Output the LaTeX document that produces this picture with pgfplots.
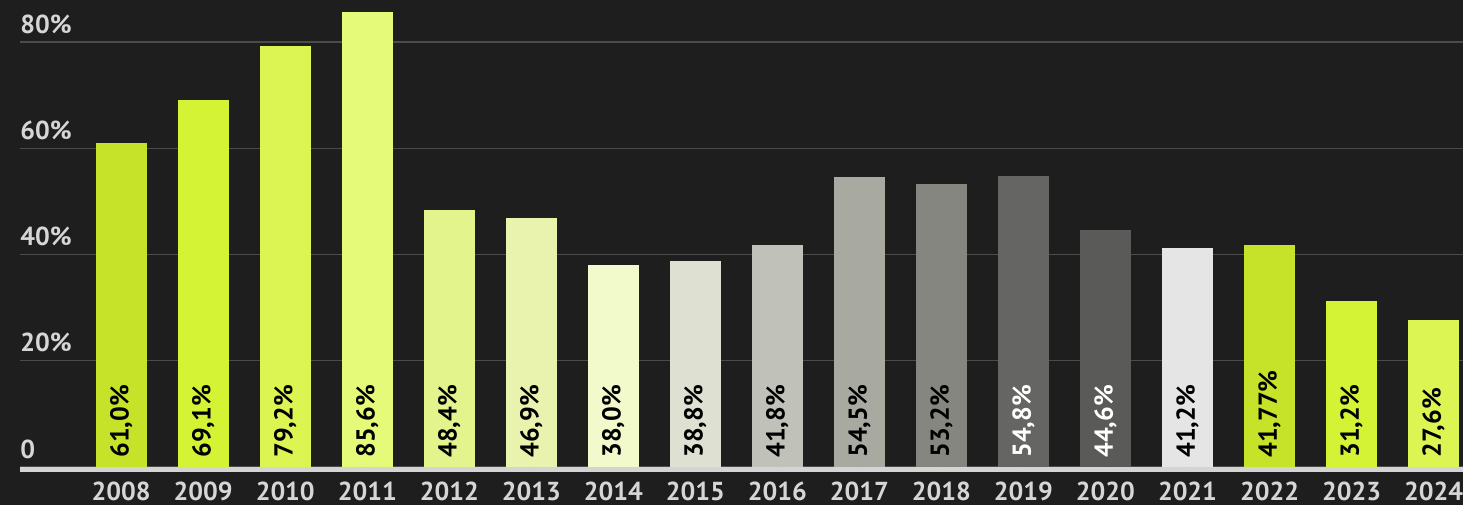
\documentclass[border=0pt]{standalone}
\usepackage{fontspec}
\setmainfont{PT Sans}
\usepackage{pgfplots}
\pgfplotsset{compat=1.18}
\definecolor{bgc}{HTML}{1E1E1E}
\definecolor{gridc}{HTML}{4B4B4B}
\definecolor{basec}{HTML}{D4D4D4}
\definecolor{tickc}{HTML}{D6D6D6}
\definecolor{c08}{HTML}{C6E32A}
\definecolor{c09}{HTML}{D5F335}
\definecolor{c10}{HTML}{DDF552}
\definecolor{c11}{HTML}{E6FA7A}
\definecolor{c12}{HTML}{E4F48C}
\definecolor{c13}{HTML}{E9F3AD}
\definecolor{c14}{HTML}{F2F9CB}
\definecolor{c15}{HTML}{DEE0D2}
\definecolor{c16}{HTML}{C0C1B8}
\definecolor{c17}{HTML}{A8A9A1}
\definecolor{c18}{HTML}{85867F}
\definecolor{c19}{HTML}{656564}
\definecolor{c20}{HTML}{5A5A58}
\definecolor{c21}{HTML}{E5E5E5}
\definecolor{c22}{HTML}{C6E32A}
\definecolor{c23}{HTML}{D5F335}
\definecolor{c24}{HTML}{DCF552}
\pgfplotsset{mybar/.style={ybar, bar width=25.5pt, bar shift=0pt, draw=none, fill=#1}}
\begin{document}
\begin{tikzpicture}
\fill[bgc] (0,0) rectangle (731.5pt,252.5pt);
\begin{axis}[
  at={(10pt,19pt)}, anchor=south west,
  scale only axis, width=721.5pt, height=233.5pt,
  xmin=-1.2338, xmax=16.359, ymin=0, ymax=87.906,
  axis line style={draw=none}, major tick length=0pt,
  xtick={0,1,2,3,4,5,6,7,8,9,10,11,12,13,14,15,16},
  xticklabels={2008,2009,2010,2011,2012,2013,2014,2015,2016,2017,2018,2019,2020,2021,2022,2023,2024},
  ytick={0,20,40,60,80},
  yticklabels={0,20\%,40\%,60\%,80\%},
  ymajorgrids, grid style={line width=0.7pt, color=gridc},
  ticklabel style={font=\fontsize{13}{15}\selectfont\bfseries, text=tickc},
  yticklabel style={anchor=base west, inner sep=0pt, xshift=0pt, yshift=4.4pt},
  xticklabel style={anchor=base, inner sep=0pt, yshift=-16.6pt},
  clip=false,
]
\addplot[mybar=c08] coordinates {(0,61.0)};
\addplot[mybar=c09] coordinates {(1,69.1)};
\addplot[mybar=c10] coordinates {(2,79.2)};
\addplot[mybar=c11] coordinates {(3,85.6)};
\addplot[mybar=c12] coordinates {(4,48.4)};
\addplot[mybar=c13] coordinates {(5,46.9)};
\addplot[mybar=c14] coordinates {(6,38.0)};
\addplot[mybar=c15] coordinates {(7,38.8)};
\addplot[mybar=c16] coordinates {(8,41.8)};
\addplot[mybar=c17] coordinates {(9,54.5)};
\addplot[mybar=c18] coordinates {(10,53.2)};
\addplot[mybar=c19] coordinates {(11,54.8)};
\addplot[mybar=c20] coordinates {(12,44.6)};
\addplot[mybar=c21] coordinates {(13,41.2)};
\addplot[mybar=c22] coordinates {(14,41.77)};
\addplot[mybar=c23] coordinates {(15,31.2)};
\addplot[mybar=c24] coordinates {(16,27.6)};
\addplot[only marks, mark=*, mark size=0pt, draw=none, fill=none,
  nodes near coords={\pgfplotspointmeta\%}, point meta=explicit symbolic,
  nodes near coords style={rotate=90, anchor=west, inner xsep=4.5pt, inner ysep=0pt,
    font=\fontsize{13}{15}\selectfont\bfseries, text=black}]
  table[meta=lab] {
x y lab
0 0 61,0
1 0 69,1
2 0 79,2
3 0 85,6
4 0 48,4
5 0 46,9
6 0 38,0
7 0 38,8
8 0 41,8
9 0 54,5
10 0 53,2
13 0 41,2
14 0 41,77
15 0 31,2
16 0 27,6
};
\addplot[only marks, mark=*, mark size=0pt, draw=none, fill=none,
  nodes near coords={\pgfplotspointmeta\%}, point meta=explicit symbolic,
  nodes near coords style={rotate=90, anchor=west, inner xsep=4.5pt, inner ysep=0pt,
    font=\fontsize{13}{15}\selectfont\bfseries, text=white}]
  table[meta=lab] {
x y lab
11 0 54,8
12 0 44,6
};
\draw[line width=2.5pt, basec] (axis cs:-1.2338,-0.41) -- (axis cs:16.359,-0.41);
\end{axis}
\pgfresetboundingbox
\path (0,0) rectangle (731.5pt,252.5pt);
\end{tikzpicture}
\end{document}
